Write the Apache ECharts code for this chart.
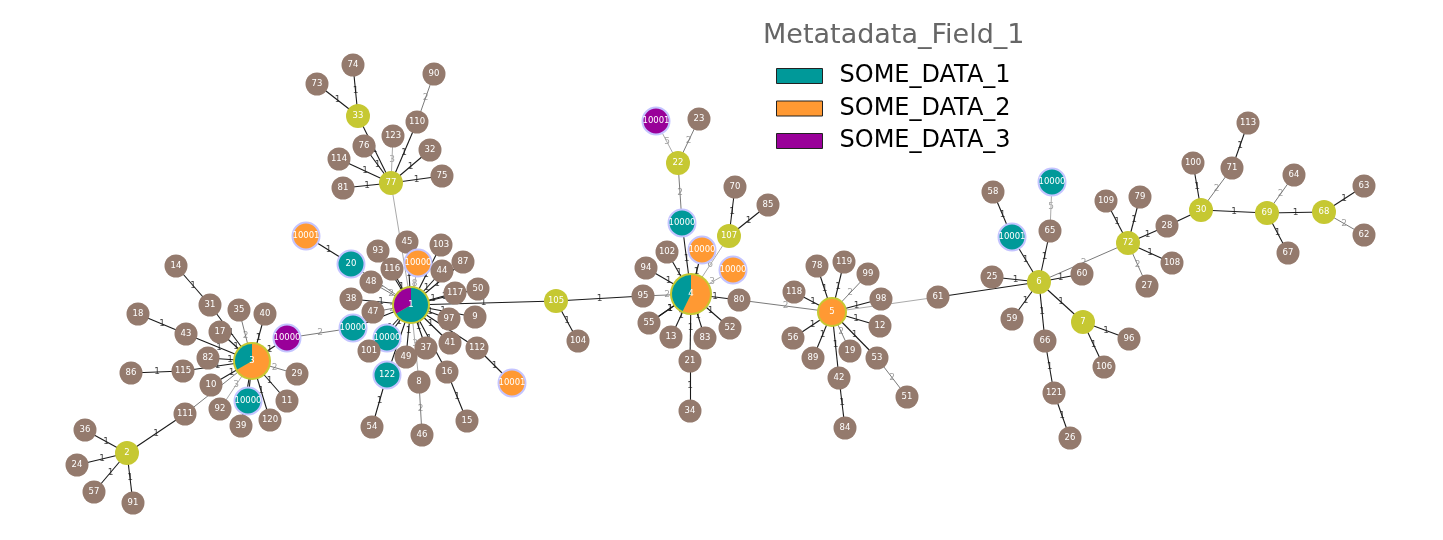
<!DOCTYPE html>
<html><head><meta charset="utf-8">
<script src="https://cdn.jsdelivr.net/npm/echarts@6/dist/echarts.min.js"></script>
<style>html,body{margin:0;padding:0;background:#fff}#c{width:1443px;height:540px}</style>
</head><body><div id="c"></div>
<script>
// ---- data: node layout coordinates (layout space 0..1443 x 0..540), labels, kinds ----
const nodeIds = ['3','31','14','18','43','35','40','17','82','p3','29','86','115','10','t3a','11','92','120','39','111','36','2','24','57','91',
 '74','73','90','33','110','123','32','76','114','75','77','81',
 'o1a','20','93','45','103','o1b','87','116','44','48','50','117','38','1','47','97','9','t1a','t1b','101','41','37','49','112','16','122','8','o1c','54','15','46',
 'p4','23','22','70','85','t4','107','102','o4a','94','o4b','105','95','4','80','55','13','83','52','21','34','104',
 '78','119','99','118','98','5','61','12','56','19','89','53','42','51','84',
 't6b','58','109','79','t6a','65','72','25','60','6','27','59','7','96','66','106','121','26',
 '113','100','71','64','63','30','69','68','28','62','108','67'];
const nodeLabels = ['3','31','14','18','43','35','40','17','82','10000','29','86','115','10','10000','11','92','120','39','111','36','2','24','57','91',
 '74','73','90','33','110','123','32','76','114','75','77','81',
 '10001','20','93','45','103','10000','87','116','44','48','50','117','38','1','47','97','9','10000','10000','101','41','37','49','112','16','122','8','10001','54','15','46',
 '10001','23','22','70','85','10000','107','102','10000','94','10000','105','95','4','80','55','13','83','52','21','34','104',
 '78','119','99','118','98','5','61','12','56','19','89','53','42','51','84',
 '10000','58','109','79','10001','65','72','25','60','6','27','59','7','96','66','106','121','26',
 '113','100','71','64','63','30','69','68','28','62','108','67'];
const nodeX = [252,210,176,138,186,239,265,220,208,287,297,131,183,211,248,287,220,270,241,185,85,127,77,94,133,
 353,317,434,358,417,393,430,364,339,442,391,343,
 306,351,378,407,441,418,463,392,442,371,478,455,351,411,373,449,475,353,387,369,450,426,406,477,447,387,419,512,372,467,422,
 656,699,678,735,768,682,729,667,702,646,733,556,643,691,739,649,671,705,730,690,690,578,
 817,844,868,794,881,832,938,880,793,850,813,877,839,907,845,
 1052,993,1106,1140,1012,1050,1128,992,1082,1039,1147,1012,1083,1129,1045,1104,1054,1070,
 1248,1193,1232,1294,1364,1201,1267,1324,1167,1364,1172,1288];
const nodeY = [361,305,266,314,334,310,314,332,358,338,374,373,371,385,401,401,409,420,426,414,430,453,465,492,503,
 65,84,74,116,122,136,150,146,159,176,183,188,
 236,264,251,242,245,263,262,269,271,282,289,293,299,305,312,319,317,328,338,351,343,348,357,348,372,375,382,383,427,421,435,
 121,119,163,187,205,223,236,252,250,268,270,301,296,294,300,323,337,338,328,361,411,341,
 266,262,274,292,299,312,297,326,338,351,358,358,378,397,428,
 182,192,201,197,237,231,243,277,274,282,286,319,322,339,341,367,393,438,
 123,163,168,175,186,210,213,212,226,235,263,253];
// b = plain isolate, y = hub, t/o/p = single-category sample, s = single-category hub, pie = mixed
const nodeKind = ['pie','b','b','b','b','b','b','b','b','p','b','b','b','b','t','b','b','b','b','b','b','y','b','b','b',
 'b','b','b','y','b','b','b','b','b','b','y','b',
 'o','t','b','b','b','o','b','b','b','b','b','b','b','pie','b','b','b','t','t','b','b','b','b','b','b','t','b','o','b','b','b',
 'p','b','y','b','b','t','y','b','o','b','o','y','b','pie','b','b','b','b','b','b','b','b',
 'b','b','b','b','b','s','b','b','b','b','b','b','b','b','b',
 't','b','b','b','t','b','y','b','b','y','b','b','y','b','b','b','b','b',
 'b','b','b','b','b','y','y','y','b','b','b','b'];

const edgeFrom = ['3','31','3','43','3','3','3','3','3','115','3','3','3','3','3','3','3','p3','3','111','2','2','2','2','p3',
 '77','77','33','33','77','77','77','77','110','77','77','77',
 '1','20','1','1','1','1','1','1','1','1','1','1','1','1','1','112','1','16','1','1','8','1','1','122','1','1','1','1','1','1','1',
 '105','105','95','4','4','4','t4','22','22','4','4','107','107','4','4','4','4','4','4','21','4','4','80',
 '5','5','5','5','5','5','53','5','5','42','5','5','5','5','61',
 '6','t6a','6','65','6','6','6','6','6','66','121','6','7','7',
 '72','72','72','72','72','28','30','30','71','30','69','69','69','68','68'];
const edgeTo = ['31','14','43','18','35','40','17','82','115','86','10','92','t3a','39','120','11','29','3','111','2','36','24','57','91','t1a',
 '33','76','74','73','114','81','123','110','90','32','75','1',
 '20','o1a','93','45','116','o1b','103','44','87','117','50','9','97','41','112','o1c','16','15','37','8','46','49','122','54','101','t1b','t1a','47','38','48','105',
 '104','95','4','94','102','t4','22','p4','23','o4a','107','70','85','o4b','80','52','83','21','13','34','55','55','5',
 '78','119','99','98','12','53','51','19','42','84','89','56','118','61','6',
 't6a','58','65','t6b','25','60','72','59','66','121','26','7','96','106',
 '109','79','28','108','27','30','100','71','113','69','64','67','68','63','62'];
const edgeWeight = [1,1,1,1,2,1,1,1,1,1,1,3,1,1,1,1,2,1,2,1,1,1,1,1,2,
 1,1,1,1,1,1,3,1,2,1,1,4,
 2,1,1,1,1,8,1,1,1,1,1,1,1,1,1,1,1,1,1,3,2,1,1,1,1,1,1,2,1,2,1,
 1,1,2,1,1,1,2,5,2,1,6,1,1,3,1,1,1,1,1,1,1,1,2,
 1,1,2,1,1,1,2,2,1,1,1,1,1,3,1,
 1,1,1,5,1,1,2,1,1,1,1,1,1,1,
 1,1,1,1,2,1,1,2,1,1,2,1,1,1,2];
const hiddenEdgeLabels = ['77-1','5-61','61-6','28-30','1-t1a','3-t3a','3-39','3-111'];

const pieNodes = ['3','1','4'];
const pieSliceCats = [['SOME_DATA_2','SOME_DATA_1'],['SOME_DATA_1','SOME_DATA_3'],['SOME_DATA_2','SOME_DATA_1']];
const pieSliceVals = [[2,1],[2,1],[4,3]];
const legendCats = ['SOME_DATA_1','SOME_DATA_2','SOME_DATA_3'];
const legendTitle = 'Metatadata_Field_1';

// ---- styles ----
const catColor = {SOME_DATA_1:'#009999', SOME_DATA_2:'#ff9933', SOME_DATA_3:'#990099'};
const BROWN = '#947a6d', HUB = '#c6c832', RING = '#c4c4ff';
const pieRadius = {'3':17, '1':17, '4':19};
const FONT = 'DejaVu Sans';

function nodeStyle(kind, id) {
  switch (kind) {
    case 'b': return {size:23, color:BROWN};
    case 'y': return {size:24, color:HUB};
    case 't': return {size:27, color:catColor.SOME_DATA_1, border:RING};
    case 'o': return {size:27, color:catColor.SOME_DATA_2, border:RING};
    case 'p': return {size:27, color:catColor.SOME_DATA_3, border:RING};
    case 's': return {size:28, color:catColor.SOME_DATA_2, border:HUB};
    case 'pie': return {size:pieRadius[id]*2+4, color:HUB, hideLabel:true};
  }
}

const nodes = nodeIds.map((id, i) => {
  const s = nodeStyle(nodeKind[i], id);
  return {
    name: id, value: [nodeX[i], nodeY[i]], symbolSize: s.size,
    itemStyle: {color: s.color, borderColor: s.border || 'rgba(0,0,0,0)', borderWidth: s.border ? 2 : 0},
    label: {show: !s.hideLabel, formatter: nodeLabels[i]}
  };
});
const edgeColor = w => w === 1 ? '#1a1a1a' : (w === 2 ? '#7a7a7a' : '#aaaaaa');
const links = edgeFrom.map((f, i) => {
  const w = edgeWeight[i];
  return {
    source: f, target: edgeTo[i], value: w,
    lineStyle: {color: edgeColor(w), width: w === 1 ? 1.1 : 1, opacity: 1}
  };
});
// upright edge-weight labels at the midpoint of each edge (derived from the node data)
const edgeLabelData = [];
edgeFrom.forEach((f, i) => {
  const key = f + '-' + edgeTo[i];
  if (hiddenEdgeLabels.indexOf(key) >= 0) return;
  const a = nodeIds.indexOf(f), b = nodeIds.indexOf(edgeTo[i]);
  const w = edgeWeight[i];
  edgeLabelData.push({
    value: [(nodeX[a] + nodeX[b]) / 2, (nodeY[a] + nodeY[b]) / 2, w],
    label: {color: w === 1 ? '#111' : '#888'}
  });
});

const chart = echarts.init(document.getElementById('c'), null, {renderer:'canvas'});
const option = {
  animation: false,
  backgroundColor: '#fff',
  title: {text: legendTitle, left: 758, top: 17,
    textStyle: {fontSize: 27, fontWeight: 'normal', color: '#666', fontFamily: FONT}},
  legend: {orient: 'vertical', left: 776, top: 64, padding: 0, itemWidth: 46, itemHeight: 15, itemGap: 8.5, icon: 'rect',
    selectedMode: false,
    textStyle: {fontSize: 24, color: '#000', fontFamily: FONT, padding: [0, 0, 0, 12]},
    data: legendCats.map(c => ({name: c, itemStyle: {color: catColor[c], borderColor: '#222', borderWidth: 1}}))},
  grid: {left: 0, right: 0, top: 0, bottom: 0},
  xAxis: {type: 'value', min: 0, max: 1443, show: false},
  yAxis: {type: 'value', min: 0, max: 540, inverse: true, show: false},
  series: [{
    type: 'graph', coordinateSystem: 'cartesian2d', layout: 'none', z: 2,
    data: nodes, links: links, roam: false,
    label: {show: true, position: 'inside', color: '#fff', fontSize: 8.5, fontFamily: FONT},
    edgeLabel: {show: false},
    emphasis: {disabled: true}
  }, {
    type: 'scatter', z: 1, symbolSize: 0, silent: true,
    data: edgeLabelData,
    label: {show: true, position: 'inside', fontSize: 9, fontFamily: FONT, formatter: p => String(p.value[2])},
    emphasis: {disabled: true}
  }]
};
chart.setOption(option);

const pies = pieNodes.map((id, k) => {
  const i = nodeIds.indexOf(id);
  const c = chart.convertToPixel({gridIndex: 0}, [nodeX[i], nodeY[i]]);
  return {
    type: 'pie', z: 5, center: c, radius: pieRadius[id], startAngle: 90, clockwise: true,
    avoidLabelOverlap: false, silent: true,
    label: {show: true, position: 'center', color: '#fff', fontSize: 8.5, fontFamily: FONT,
      formatter: p => p.dataIndex === 0 ? nodeLabels[i] : ''},
    labelLine: {show: false},
    emphasis: {disabled: true},
    data: pieSliceCats[k].map((cat, j) => ({name: cat, value: pieSliceVals[k][j], itemStyle: {color: catColor[cat]}}))
  };
});
chart.setOption({series: option.series.concat(pies)});
</script></body></html>
